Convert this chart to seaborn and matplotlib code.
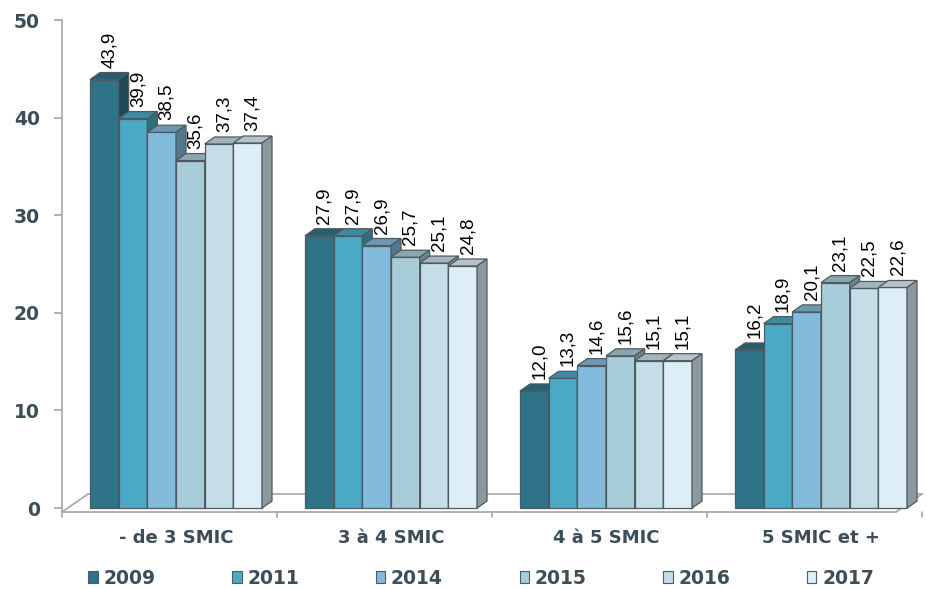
import matplotlib
matplotlib.use("Agg")
import matplotlib.pyplot as plt
from matplotlib.patches import Polygon
import seaborn as sns
import pandas as pd
import numpy as np

# ---- data -------------------------------------------------------------
categories = ["- de 3 SMIC", "3 à 4 SMIC", "4 à 5 SMIC", "5 SMIC et +"]
years = ["2009", "2011", "2014", "2015", "2016", "2017"]
v2009 = [43.9, 27.9, 12.0, 16.2]
v2011 = [39.9, 27.9, 13.3, 18.9]
v2014 = [38.5, 26.9, 14.6, 20.1]
v2015 = [35.6, 25.7, 15.6, 23.1]
v2016 = [37.3, 25.1, 15.1, 22.5]
v2017 = [37.4, 24.8, 15.1, 22.6]
y_ticks = [0, 10, 20, 30, 40, 50]

series = [v2009, v2011, v2014, v2015, v2016, v2017]
df = pd.DataFrame(
    [(c, y, s[i]) for y, s in zip(years, series) for i, c in enumerate(categories)],
    columns=["tranche", "annee", "valeur"],
)

front_colors = ["#2F7388", "#4AAAC6", "#82BBDC", "#A8CCD8", "#C5DDE7", "#DDEEF6"]
text_color = "#3C4D58"
edge_color = "#4E5A60"


def shade(hex_color, f):
    r, g, b = matplotlib.colors.to_rgb(hex_color)
    return (r * f, g * f, b * f)


# ---- figure -----------------------------------------------------------
sns.set_theme(style="white")
plt.rcParams["font.family"] = ["DejaVu Sans"]

W, H = 927, 589
fig = plt.figure(figsize=(W / 100, H / 100), dpi=100)
ax_left, ax_bottom, ax_right, ax_top = 62, 512, 922, 20
ax = fig.add_axes([ax_left / W, (H - ax_bottom) / H,
                   (ax_right - ax_left) / W, (ax_bottom - ax_top) / H])

sns.barplot(data=df, x="tranche", y="valeur", hue="annee", palette=front_colors,
            width=0.8, edgecolor=edge_color, linewidth=0.9, ax=ax, legend=False,
            errorbar=None, saturation=1)

group_px = 215.0
x0 = -(176 - ax_left) / group_px
x1 = x0 + (ax_right - ax_left) / group_px
y0 = -0.4
y1 = 50
ax.set_xlim(x0, x1)
ax.set_ylim(y0, y1)

px_x = group_px              # pixels per x unit
px_y = (ax_bottom - ax_top) / (y1 - y0)
dx = 10 / px_x               # bar depth
dy = 7 / px_y

# 3D faces (top and right side) for every bar, drawn left to right
bars = []
for k, cont in enumerate(ax.containers):
    for i, p in enumerate(cont.patches):
        bars.append((p.get_x(), k, i, p))
bars.sort(key=lambda t: t[0])
for order, (xl, k, i, p) in enumerate(bars):
    w = p.get_width()
    h = p.get_height()
    z = 3 + order * 0.01
    p.set_zorder(z)
    base = front_colors[k]
    top = Polygon([(xl, h), (xl + w, h), (xl + w + dx, h + dy), (xl + dx, h + dy)],
                  closed=True, facecolor=shade(base, 0.82), edgecolor=edge_color,
                  linewidth=0.9, zorder=z + 0.001)
    side = Polygon([(xl + w, 0), (xl + w + dx, dy), (xl + w + dx, h + dy), (xl + w, h)],
                   closed=True, facecolor=shade(base, 0.64), edgecolor=edge_color,
                   linewidth=0.9, zorder=z + 0.002)
    ax.add_patch(top)
    ax.add_patch(side)
    label = f"{h:.1f}".replace(".", ",")
    ax.text(xl + w / 2 + dx / 2, h + dy + 5 / px_y, label, rotation=90,
            ha="center", va="bottom", fontsize=13.5, color="black",
            family=["Liberation Sans", "DejaVu Sans"], zorder=10)

# floor of the plot area
fdx = 26 / px_x
fdy = 18 / px_y
floor_color = "#A6A6A6"
x_front_end = x1 - fdx
ax.plot([x0, x_front_end], [y0, y0], color=floor_color, lw=1.2, zorder=1, clip_on=False)
ax.plot([x0, x0 + fdx], [y0, y0 + fdy], color=floor_color, lw=1.2, zorder=1, clip_on=False)
ax.plot([x0 + fdx, x1], [y0 + fdy, y0 + fdy], color=floor_color, lw=1.2, zorder=1, clip_on=False)
ax.plot([x_front_end, x1], [y0, y0 + fdy], color=floor_color, lw=1.2, zorder=1, clip_on=False)

# category separators on the floor front edge
for b in np.arange(0, len(categories) + 1):
    xb = x0 + b
    ax.plot([xb, xb], [y0, y0 - 5 / px_y], color=floor_color, lw=1.2, clip_on=False)

# axes styling
for s in ["top", "right", "bottom"]:
    ax.spines[s].set_visible(False)
ax.spines["left"].set_color(floor_color)
ax.spines["left"].set_linewidth(1.2)
ax.spines["left"].set_bounds(y0, y1)

ax.set_yticks(y_ticks)
ax.set_yticklabels([str(t) for t in y_ticks])
ax.tick_params(axis="y", length=6, width=1.2, color=floor_color, pad=10,
               labelsize=13.5, labelcolor=text_color, left=True)
ax.tick_params(axis="x", length=0, pad=12, labelsize=13, labelcolor=text_color)
for lab in ax.get_yticklabels() + ax.get_xticklabels():
    lab.set_fontweight("bold")
ax.set_xlabel("")
ax.set_ylabel("")
ax.grid(False)
ax.patch.set_alpha(0)

# legend
handles = [matplotlib.patches.Patch(facecolor=c, edgecolor=edge_color, linewidth=0.8)
           for c in front_colors]
leg = fig.legend(handles, years, loc="center", bbox_to_anchor=(481 / W, 1 - 578 / H),
                 ncol=6, frameon=False, handlelength=0.5, handleheight=0.55,
                 handletextpad=0.3, columnspacing=4.1,
                 prop={"weight": "bold", "size": 13.5})
for t in leg.get_texts():
    t.set_color(text_color)

fig.savefig("out.png", dpi=100, facecolor="white")
